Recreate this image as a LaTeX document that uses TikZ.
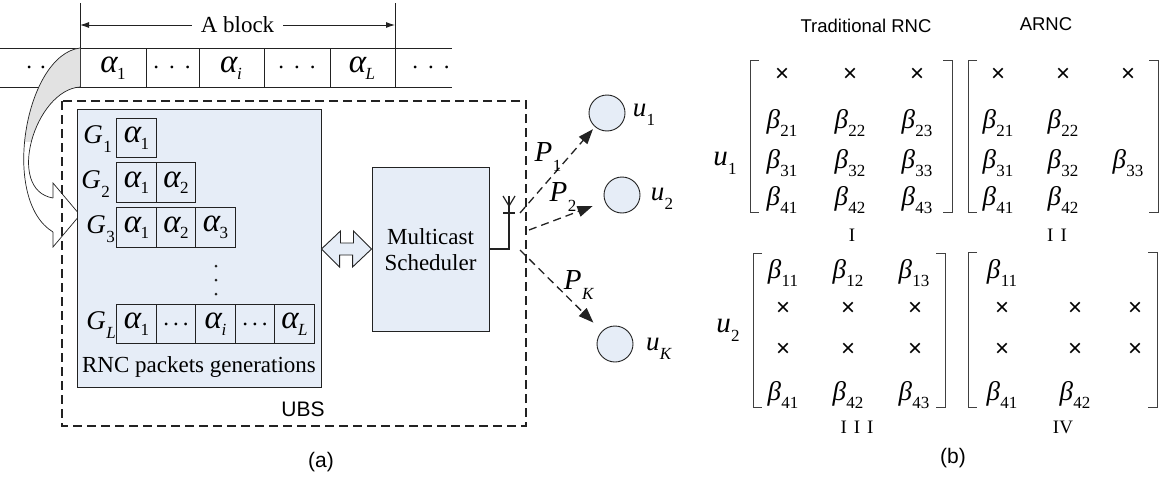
\documentclass[tikz,border=0pt]{standalone}
\usepackage{fontspec}
\setmainfont{Liberation Serif}
\setsansfont{Liberation Sans}
\usetikzlibrary{arrows.meta}
\definecolor{lblue}{HTML}{E6EDF7}
\definecolor{lgray}{HTML}{E2E2E2}
\definecolor{ink}{HTML}{222222}
\newcommand\sy[2]{\textit{#1}\kern0.4pt\raisebox{-0.32em}{\fontsize{17}{17}\selectfont #2}}
\newcommand\sa[1]{{\fontsize{33}{33}\selectfont\textit{α}}\kern-1pt\raisebox{-0.25em}{\fontsize{17}{17}\selectfont #1}}
\newcommand\tdots[1]{.\hspace{#1}.\hspace{#1}.}
\begin{document}
\begin{tikzpicture}[x=1pt,y=-1pt,
  ln/.style={draw=ink, line width=0.9pt},
  mth/.style={font=\fontsize{27}{27}\selectfont, inner sep=0pt},
  txt/.style={font=\fontsize{23}{26}\selectfont, inner sep=0pt},
  sns/.style={font=\sffamily\fontsize{21}{24}\selectfont, inner sep=0pt},
  hdr/.style={font=\sffamily\fontsize{18.5}{20}\selectfont, inner sep=0pt},
  cell/.style={draw=ink, line width=0.9pt, minimum width=39.4pt, minimum height=39.5pt, inner sep=0pt, font=\fontsize{26}{26}\selectfont},
  blk/.style={draw=ink, line width=0.9pt, fill=lblue, inner sep=0pt},
  usr/.style={circle, draw=ink, line width=0.9pt, fill=lblue, minimum size=36pt, inner sep=0pt},
  darr/.style={draw=ink, line width=1.3pt, dash pattern=on 8pt off 5pt, -{Triangle[length=15pt,width=11pt]}},
  crs/.style={font=\sffamily\fontsize{24}{24}\selectfont, inner sep=0pt},
  bet/.style={font=\fontsize{27}{27}\selectfont, inner sep=0pt},
  rom/.style={font=\fontsize{19}{19}\selectfont, inner sep=0pt},
  brk/.style={draw=black!75, line width=0.9pt},
]
\useasboundingbox (0,0) rectangle (1167,479);

% ---------- top strip ----------
\draw[ln] (0,48) -- (452,48);
\draw[ln] (0,87) -- (452,87);
\foreach \x in {146,199,264,330} \draw[ln] (\x,48) -- (\x,87);
\draw[ln] (80,3) -- (80,87);
\draw[ln] (395,3) -- (395,87);
\node[txt] (t0) at (43,67) {\tdots{8pt}};
\node[mth] (t1) at (113,68) {\sa{1}};
\node[txt] (t2) at (172,67) {\tdots{10pt}};
\node[mth] (t3) at (231,68) {\sa{\textit{i}}};
\node[txt] (t4) at (297,67) {\tdots{10pt}};
\node[mth] (t5) at (362,68) {\sa{\textit{L}}};
\node[txt] (t6) at (431,67) {\tdots{10pt}};
\node[txt, inner xsep=9pt] (ab) at (237.5,25) {A block};
\coordinate (abl) at (80,25);
\coordinate (abr) at (395,25);
\draw[ln, -{Latex[length=9pt,width=6pt]}] (ab) -- (abl);
\draw[ln, -{Latex[length=9pt,width=6pt]}] (ab) -- (abr);

% ---------- curved arrow ----------
\begin{scope}
  \clip (0,40) rectangle (100,141);
  \fill[lgray] (80,48) .. controls (25,55) and (0,200) .. (53,232)
     -- (53,198) .. controls (5,190) and (35,90) .. (80,87) -- cycle;
\end{scope}
\draw[ln, line width=0.7pt] (80,48) .. controls (25,55) and (0,200) .. (53,232);
\draw[ln, line width=0.7pt] (80,87) .. controls (35,90) and (5,190) .. (53,198);
\draw[ln, line width=0.7pt] (53,198) -- (53,183) -- (80,215) -- (53,247) -- (53,232);

% ---------- UBS box ----------
\draw[ln, line width=1.4pt, dash pattern=on 9pt off 5pt] (62,101) rectangle (526,426);
\node[sns] (ubs) at (303,409) {UBS};

% ---------- RNC generations ----------
\node[blk, minimum width=244pt, minimum height=278pt] (rnc) at (199,248) {};
\node[mth, anchor=east] (g1) at (112,139) {\sy{G}{1}};
\node[cell] (g1a) at (136.5,138) {\sa{1}};
\node[mth, anchor=east] (g2) at (110,184) {\sy{G}{2}};
\node[cell] (g2a) at (136.5,182.5) {\sa{1}};
\node[cell] (g2b) at (176,182.5) {\sa{2}};
\node[mth, anchor=east] (g3) at (115,229) {\sy{G}{3}};
\node[cell] (g3a) at (136.5,227.5) {\sa{1}};
\node[cell] (g3b) at (176,227.5) {\sa{2}};
\node[cell] (g3c) at (215.5,227.5) {\sa{3}};
\fill[ink] (216,266) circle (1.5) (216,280) circle (1.5) (216,294) circle (1.5);
\node[mth, anchor=east] (gl) at (116,325) {\sy{G}{\textit{L}}};
\node[cell] (gla) at (136.5,324) {\sa{1}};
\node[cell, font=\fontsize{23}{23}\selectfont] (glb) at (176,324) {\tdots{4pt}};
\node[cell] (glc) at (215.5,324) {\sa{\textit{i}}};
\node[cell, font=\fontsize{23}{23}\selectfont] (gld) at (255,324) {\tdots{4pt}};
\node[cell] (gle) at (294.5,324) {\sa{\textit{L}}};
\node[txt] (rnclab) at (199,367) {RNC packets generations};

% ---------- scheduler ----------
\node[blk, minimum width=117pt, minimum height=164pt] (sch) at (430.5,249) {};
\node[txt, align=center, font=\fontsize{23}{26}\selectfont] (schlab) at (430.5,250) {Multicast\\Scheduler};
\draw[blk] (rnc.east |- sch.west) -- ++(19,-18) -- ++(0,12) -- ++(13,0) -- ++(0,-12)
  -- (sch.west) -- ++(-19,18) -- ++(0,-12) -- ++(-13,0) -- ++(0,12) -- cycle;

% ---------- antenna ----------
\coordinate (antb) at (509,249);
\coordinate (antt) at (509,196);
\draw[ln, line width=1.2pt] (sch.east) -- (antb) -- (antt);
\draw[ln, line width=1.2pt] (503,196) -- (509,206) -- (515,196);
\draw[ln, line width=1.2pt] (503,213) -- (515,213);

% ---------- users ----------
\node[usr] (u1c) at (607,113) {};
\node[usr] (u2c) at (622,195) {};
\node[usr] (uKc) at (615,344) {};
\node[mth] (u1l) at (644,115) {\sy{u}{1}};
\node[mth] (u2l) at (662,199) {\sy{u}{2}};
\node[mth] (uKl) at (659,349) {\sy{u}{\textit{K}}};
\coordinate (s1) at (520,213);
\coordinate (s2) at (529,230);
\coordinate (sK) at (520,250);
\draw[darr, shorten >=3pt] (s1) -- (u1c);
\draw[darr, shorten >=13pt] (s2) -- (u2c);
\draw[darr, shorten >=12pt] (sK) -- (uKc);
\node[mth, font=\fontsize{29}{29}\selectfont] (p1) at (548,157) {\sy{P}{1}};
\node[mth, font=\fontsize{29}{29}\selectfont] (p2) at (563,197) {\sy{P}{2}};
\node[mth, font=\fontsize{29}{29}\selectfont] (pK) at (579,285) {\sy{P}{\textit{K}}};

\node[sns] (capa) at (321,462) {(a)};

% ---------- panel (b) ----------
\node[hdr] (h1) at (866,26) {Traditional RNC};
\node[hdr] (h2) at (1046,24) {ARNC};
\node[mth, font=\fontsize{29}{29}\selectfont] (mu1) at (725,163) {\sy{u}{1}};
\node[mth, font=\fontsize{29}{29}\selectfont] (mu2) at (728,330) {\sy{u}{2}};

% brackets
\draw[brk] (759,60) -- (750,60) -- (750,212) -- (759,212);
\draw[brk] (943,60) -- (952,60) -- (952,212) -- (943,212);
\draw[brk] (977,60) -- (968,60) -- (968,212) -- (977,212);
\draw[brk] (1149,60) -- (1158,60) -- (1158,212) -- (1149,212);
\draw[brk] (762,253) -- (753,253) -- (753,407) -- (762,407);
\draw[brk] (936,253) -- (945,253) -- (945,407) -- (936,407);
\draw[brk] (977,252) -- (968,252) -- (968,407) -- (977,407);
\draw[brk] (1148,252) -- (1157,252) -- (1157,407) -- (1148,407);

% matrix I
\node[crs] (a11) at (782,75) {×};
\node[crs] (a12) at (850,75) {×};
\node[crs] (a13) at (917,75) {×};
\node[bet] (a21) at (782,123) {\sy{β}{21}};
\node[bet] (a22) at (850,123) {\sy{β}{22}};
\node[bet] (a23) at (917,123) {\sy{β}{23}};
\node[bet] (a31) at (782,163) {\sy{β}{31}};
\node[bet] (a32) at (850,163) {\sy{β}{32}};
\node[bet] (a33) at (917,163) {\sy{β}{33}};
\node[bet] (a41) at (782,200) {\sy{β}{41}};
\node[bet] (a42) at (850,200) {\sy{β}{42}};
\node[bet] (a43) at (917,200) {\sy{β}{43}};
% matrix II
\node[crs] (b11) at (998,75) {×};
\node[crs] (b12) at (1063,75) {×};
\node[crs] (b13) at (1128,75) {×};
\node[bet] (b21) at (998,123) {\sy{β}{21}};
\node[bet] (b22) at (1063,123) {\sy{β}{22}};
\node[bet] (b31) at (998,163) {\sy{β}{31}};
\node[bet] (b32) at (1063,163) {\sy{β}{32}};
\node[bet] (b33) at (1128,163) {\sy{β}{33}};
\node[bet] (b41) at (998,200) {\sy{β}{41}};
\node[bet] (b42) at (1063,200) {\sy{β}{42}};
% matrix III
\node[bet] (c11) at (783,273) {\sy{β}{11}};
\node[bet] (c12) at (848,273) {\sy{β}{12}};
\node[bet] (c13) at (914,273) {\sy{β}{13}};
\node[crs] (c21) at (783,309) {×};
\node[crs] (c22) at (848,309) {×};
\node[crs] (c23) at (915,309) {×};
\node[crs] (c31) at (783,350) {×};
\node[crs] (c32) at (848,350) {×};
\node[crs] (c33) at (915,350) {×};
\node[bet] (c41) at (783,395) {\sy{β}{41}};
\node[bet] (c42) at (848,395) {\sy{β}{42}};
\node[bet] (c43) at (914,395) {\sy{β}{43}};
% matrix IV
\node[bet] (d11) at (1002,273) {\sy{β}{11}};
\node[crs] (d21) at (1002,309) {×};
\node[crs] (d22) at (1075,309) {×};
\node[crs] (d23) at (1135,309) {×};
\node[crs] (d31) at (1002,350) {×};
\node[crs] (d32) at (1075,350) {×};
\node[crs] (d33) at (1135,350) {×};
\node[bet] (d41) at (1002,395) {\sy{β}{41}};
\node[bet] (d42) at (1075,395) {\sy{β}{42}};

\node[rom] (r1) at (852,235) {I};
\node[rom] (r2) at (1057,235) {I\kern7pt I};
\node[rom] (r3) at (857,427) {I\kern7pt I\kern7pt I};
\node[rom] (r4) at (1063,427) {IV};
\node[sns] (capb) at (953,458) {(b)};
\end{tikzpicture}
\end{document}
